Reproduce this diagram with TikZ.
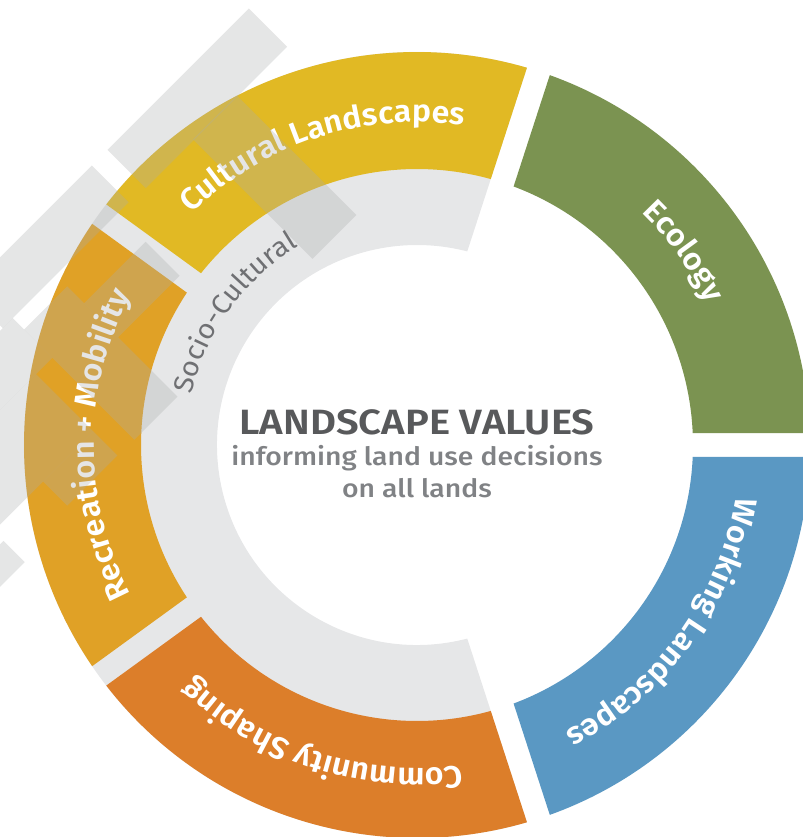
\documentclass[tikz,border=0pt]{standalone}
\usepackage{fontspec}
\setmainfont{Fira Sans}
\newfontfamily\labelfont{Fira Sans SemiBold}[FakeStretch=1.04]
\newfontfamily\titlefont{Fira Sans SemiBold}[FakeStretch=1.14]
\newfontfamily\subfont{Fira Sans Medium}[FakeStretch=1.12]
\newfontfamily\socfont{Fira Sans}[FakeStretch=1.06]
\usetikzlibrary{decorations.text}

\definecolor{ecogreen}{HTML}{7B9351}
\definecolor{cultyellow}{HTML}{E1B924}
\definecolor{recorange}{HTML}{E0A126}
\definecolor{commorange}{HTML}{DC7E2A}
\definecolor{workblue}{HTML}{5A98C3}
\definecolor{socgray}{HTML}{E6E7E8}
\definecolor{soctext}{HTML}{6F7073}
\definecolor{titlegray}{HTML}{58595B}
\definecolor{subgray}{HTML}{808285}
\definecolor{patchgray}{HTML}{AAACAC}

\newcommand{\lblstyle}{\labelfont\fontsize{22}{22}\selectfont}
\newcommand{\socstyle}{\socfont\fontsize{19.5}{19.5}\selectfont}

% ring piece: start angle, end angle, inner radius, outer radius, colour
\newcommand{\ringpart}[5]{%
  \fill[#5] ({#1+asin(12/#4)}:#4) arc[start angle={#1+asin(12/#4)}, end angle={#2-asin(12/#4)}, radius=#4]
    -- ({#2-asin(12/#3)}:#3) arc[start angle={#2-asin(12/#3)}, end angle={#1+asin(12/#3)}, radius=#3] -- cycle;}

\begin{document}
\begin{tikzpicture}[x=0.25mm, y=0.25mm,
    patch/.style={fill=patchgray, fill opacity=0.3},
    ringlabel/.style={decorate, decoration={text along path, text color=white, text align=center, text={#1}}}]
  \useasboundingbox (-417,-392) rectangle (386,445);

  % Socio-Cultural band behind the left half
  \fill[socgray] ({72+asin(12/393)}:393) arc[start angle={72+asin(12/393)}, end angle={288-asin(12/393)}, radius=393]
    -- ({288-asin(12/200)}:200) arc[start angle={288-asin(12/200)}, end angle={72+asin(12/200)}, radius=200] -- cycle;

  % outer values x5
  \foreach \a/\col in {0/ecogreen, 72/cultyellow, 144/recorange, 216/commorange, 288/workblue}{
      \ringpart{\a}{\a+72}{276}{393}{\col}
    }

  % labels along the ring
  \path[ringlabel={|\lblstyle|Ecology}] (72:323) arc[start angle=72, end angle=0, radius=323];
  \path[ringlabel={|\lblstyle|Cultural Landscapes}] (144:323) arc[start angle=144, end angle=72, radius=323];
  \path[ringlabel={|\lblstyle|Recreation + Mobility}] (216:323) arc[start angle=216, end angle=144, radius=323];
  \path[ringlabel={|\lblstyle|Community Shaping}] (288:323) arc[start angle=288, end angle=216, radius=323];
  \path[ringlabel={|\lblstyle|Working Landscapes}] (360:323) arc[start angle=360, end angle=288, radius=323];
  \path[decorate, decoration={text along path, text color=soctext, text align=center, text={|\socstyle|Socio-Cultural}}]
    (195:231) arc[start angle=195, end angle=93, radius=231];

  % grey patches, upper left
  \begin{scope}[shift={(-417,445)}, yscale=-1, rotate=45]
    \foreach \sa/\ta/\sb/\tb in {182/-170/236/30, 235/-100/404/-38, 182/52/234/230, 274/68/322/155,
        250/155/406/216, 234/216/290/300, 290/239/371/380, 371/239/405/310, 385/380/415/430}{
        \fill[patch] (\sa,\ta) rectangle (\sb,\tb);
      }
  \end{scope}

  % centre text
  \node[anchor=base, text=titlegray, font=\titlefont\fontsize{25}{25}\selectfont] (title) at (0,11) {LANDSCAPE VALUES};
  \node[anchor=base, text=subgray, font=\subfont\fontsize{18}{18}\selectfont] (subone) at (0,-20) {informing land use decisions};
  \node[anchor=base, text=subgray, font=\subfont\fontsize{18}{18}\selectfont] (subtwo) at (0,-52) {on all lands};
\end{tikzpicture}
\end{document}
